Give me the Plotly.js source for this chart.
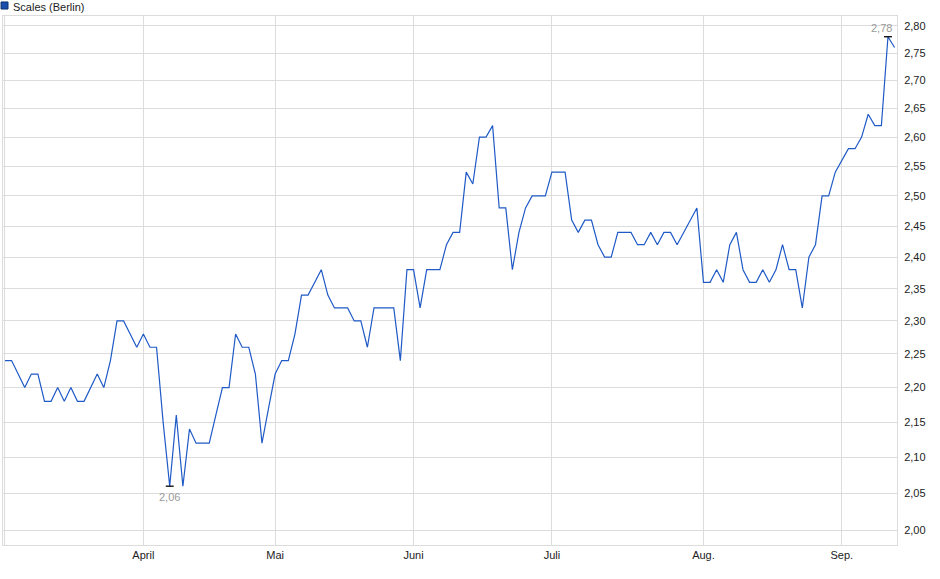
<!DOCTYPE html>
<html>
<head>
<meta charset="utf-8">
<script src="https://cdn.plot.ly/plotly-3.0.1.min.js"></script>
<style>
  html, body { margin: 0; padding: 0; background: #fff; }
  #plot { width: 940px; height: 579px; }
</style>
</head>
<body>
<div id="plot"></div>
<script>
// Scales (Berlin) closing prices, one value per trading day (March - September)
let seriesName = 'Scales (Berlin)';
let prices = [
  2.24, 2.24, 2.22, 2.20, 2.22, 2.22, 2.18, 2.18, 2.20, 2.18,
  2.20, 2.18, 2.18, 2.20, 2.22, 2.20, 2.24, 2.30, 2.30, 2.28,
  2.26, 2.28, 2.26, 2.26, 2.15, 2.06, 2.16, 2.06, 2.14, 2.12,
  2.12, 2.12, 2.16, 2.20, 2.20, 2.28, 2.26, 2.26, 2.22, 2.12,
  2.17, 2.22, 2.24, 2.24, 2.28, 2.34, 2.34, 2.36, 2.38, 2.34,
  2.32, 2.32, 2.32, 2.30, 2.30, 2.26, 2.32, 2.32, 2.32, 2.32,
  2.24, 2.38, 2.38, 2.32, 2.38, 2.38, 2.38, 2.42, 2.44, 2.44,
  2.54, 2.52, 2.60, 2.60, 2.62, 2.48, 2.48, 2.38, 2.44, 2.48,
  2.50, 2.50, 2.50, 2.54, 2.54, 2.54, 2.46, 2.44, 2.46, 2.46,
  2.42, 2.40, 2.40, 2.44, 2.44, 2.44, 2.42, 2.42, 2.44, 2.42,
  2.44, 2.44, 2.42, 2.44, 2.46, 2.48, 2.36, 2.36, 2.38, 2.36,
  2.42, 2.44, 2.38, 2.36, 2.36, 2.38, 2.36, 2.38, 2.42, 2.38,
  2.38, 2.32, 2.40, 2.42, 2.50, 2.50, 2.54, 2.56, 2.58, 2.58,
  2.60, 2.64, 2.62, 2.62, 2.78, 2.76
];
// first trading day of each month (index into prices)
let monthStarts = [0, 21, 41, 62, 83, 106, 127];
let monthLabels = ['', 'April', 'Mai', 'Juni', 'Juli', 'Aug.', 'Sep.'];
let priceTicks = [2.00, 2.05, 2.10, 2.15, 2.20, 2.25, 2.30, 2.35, 2.40,
                  2.45, 2.50, 2.55, 2.60, 2.65, 2.70, 2.75, 2.80];

let lineColor = '#1f5ac6';
let gridColor = '#dcdcdc';
let fontFamily = 'Liberation Sans, Arial, sans-serif';

let days = prices.map((p, i) => i);

// low / high markers
let minIdx = prices.indexOf(Math.min(...prices));
let maxIdx = prices.indexOf(Math.max(...prices));
let fmt = v => v.toFixed(2).replace('.', ',');

let trace = {
  x: days,
  y: prices,
  type: 'scatter',
  mode: 'lines',
  line: { color: lineColor, width: 1.2 },
  hoverinfo: 'none'
};

// short black bar at the low and at the high
function markerTrace(i) {
  return {
    x: [i - 0.6, i + 0.6],
    y: [prices[i], prices[i]],
    type: 'scatter',
    mode: 'lines',
    line: { color: '#000', width: 1.3 },
    hoverinfo: 'none'
  };
}

let layout = {
  width: 940,
  height: 579,
  margin: { l: 3, r: 43, t: 16, b: 34, pad: 0 },
  paper_bgcolor: '#fff',
  plot_bgcolor: '#fff',
  separators: ',.',
  showlegend: false,
  font: { family: fontFamily, size: 11, color: '#222' },
  xaxis: {
    range: [-0.3, 135.37],
    tickmode: 'array',
    tickvals: monthStarts,
    ticktext: monthLabels,
    showgrid: true,
    gridcolor: gridColor,
    gridwidth: 1,
    zeroline: false,
    showline: true,
    mirror: true,
    linecolor: gridColor,
    linewidth: 1,
    ticks: '',
    tickfont: { size: 11, color: '#222' },
    fixedrange: true
  },
  yaxis: {
    type: 'log',
    side: 'right',
    range: [0.296837, 0.450050],
    tickmode: 'array',
    tickvals: priceTicks,
    tickformat: '.2f',
    showgrid: true,
    gridcolor: gridColor,
    gridwidth: 1,
    zeroline: false,
    showline: true,
    mirror: true,
    linecolor: gridColor,
    linewidth: 1,
    ticks: '',
    ticklabelstandoff: 4,
    tickfont: { size: 11, color: '#222' },
    fixedrange: true
  },
  shapes: [
    // legend swatch
    {
      type: 'rect', xref: 'paper', yref: 'paper',
      x0: -0.0022, x1: 0.0056, y0: 1.0132, y1: 1.0265,
      fillcolor: '#1a4fae', line: { color: '#10306e', width: 1 }
    }
  ],
  annotations: [
    {
      text: seriesName, xref: 'paper', yref: 'paper',
      x: 0.0085, y: 1.0176, xanchor: 'left', yanchor: 'middle',
      showarrow: false, font: { family: fontFamily, size: 11, color: '#222' }
    },
    {
      text: fmt(prices[minIdx]), xref: 'x', yref: 'y',
      x: minIdx, y: Math.log10(prices[minIdx]),
      xanchor: 'center', yanchor: 'top', yshift: -3,
      showarrow: false, font: { family: fontFamily, size: 11, color: '#9a9a9a' }
    },
    {
      text: fmt(prices[maxIdx]), xref: 'x', yref: 'y',
      x: maxIdx, y: Math.log10(prices[maxIdx]),
      xanchor: 'right', yanchor: 'bottom', xshift: 6, yshift: 1,
      showarrow: false, font: { family: fontFamily, size: 11, color: '#9a9a9a' }
    }
  ]
};

let options = { staticPlot: true, displayModeBar: false };

Plotly.newPlot('plot', [trace, markerTrace(minIdx), markerTrace(maxIdx)], layout, options);
</script>
</body>
</html>
